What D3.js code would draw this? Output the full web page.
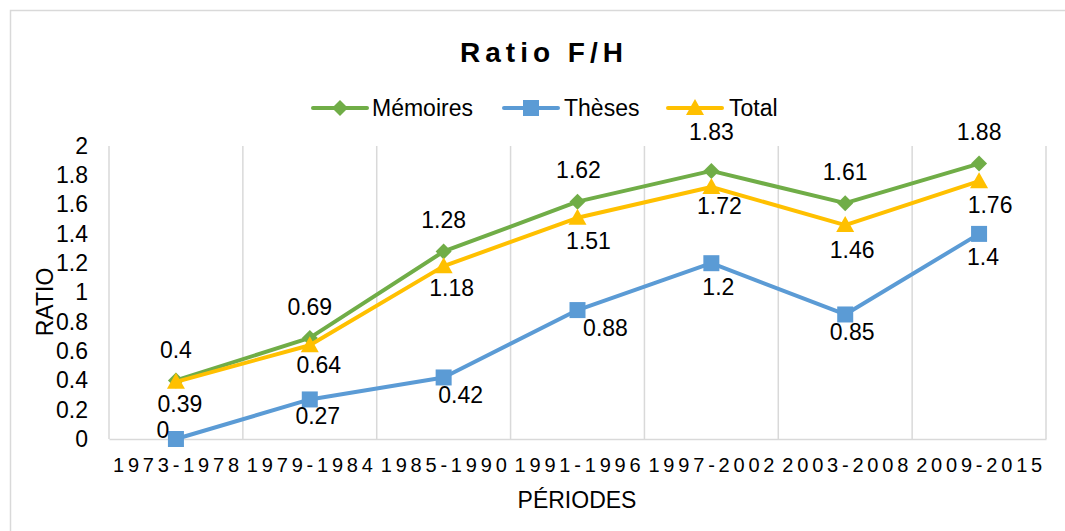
<!DOCTYPE html>
<html>
<head>
<meta charset="utf-8">
<script src="https://cdn.jsdelivr.net/npm/d3@7"></script>
<style>
  body { margin: 0; background: #fff; }
  svg { font-family: "Liberation Sans", Arial, sans-serif; }
</style>
</head>
<body>
<svg id="chart" width="1065" height="531"></svg>
<script>
// données
const periodes = ["1973-1978", "1979-1984", "1985-1990", "1991-1996", "1997-2002", "2003-2008", "2009-2015"];
const memoires = [0.4, 0.69, 1.28, 1.62, 1.83, 1.61, 1.88];
const theses = [0, 0.27, 0.42, 0.88, 1.2, 0.85, 1.4];
const total = [0.39, 0.64, 1.18, 1.51, 1.72, 1.46, 1.76];
const yTicks = [0, 0.2, 0.4, 0.6, 0.8, 1, 1.2, 1.4, 1.6, 1.8, 2];

// décalage des étiquettes (dx, dy) par point
const shiftMemoires = [[0,-30],[0,-31],[0,-32],[1,-32],[0,-39],[0,-31],[0,-32]];
const shiftTheses = [[-13,-9],[8,17],[17,17],[28,18],[7,24],[7,17],[4,23]];
const shiftTotal = [[4,22],[9,20],[8,22],[11,23],[8,19],[7,25],[11,24]];

const series = [
  { name: "Mémoires", values: memoires, color: "#70AD47", marker: "diamond", shift: shiftMemoires },
  { name: "Thèses", values: theses, color: "#5B9BD5", marker: "square", shift: shiftTheses },
  { name: "Total", values: total, color: "#FFC000", marker: "triangle", shift: shiftTotal }
];

const svg = d3.select("#chart");
const area = { left: 109, right: 1046, top: 146, bottom: 439 };
const grid = "#D9D9D9";
const fs = "23px";

// cadre
svg.append("rect")
  .attr("x", 10.5).attr("y", 10.5)
  .attr("width", 1070).attr("height", 540)
  .attr("fill", "none").attr("stroke", grid).attr("stroke-width", 1.5);

const scX = d3.scaleBand().domain(periodes).range([area.left, area.right]).padding(0);
const scY = d3.scaleLinear().domain([0, 2]).range([area.bottom, area.top]);

// grille verticale
svg.append("g").selectAll("line")
  .data(periodes)
  .enter()
  .append("line")
  .attr("x1", d => scX(d) + scX.bandwidth())
  .attr("x2", d => scX(d) + scX.bandwidth())
  .attr("y1", area.top)
  .attr("y2", area.bottom)
  .attr("stroke", grid).attr("stroke-width", 1.5);

// axe gauche (ligne)
svg.append("line")
  .attr("x1", area.left).attr("x2", area.left)
  .attr("y1", area.top).attr("y2", area.bottom)
  .attr("stroke", grid).attr("stroke-width", 1.5);

// axe X
const axX = svg.append("g")
  .attr("transform", `translate(0, ${area.bottom})`)
  .call(d3.axisBottom(scX).tickSize(0).tickPadding(19));
axX.select(".domain").attr("stroke", grid).attr("stroke-width", 1.5);
axX.selectAll("text")
  .attr("fill", "#000")
  .style("font-size", "20px")
  .style("letter-spacing", "3.8px")
  .attr("dx", "2px")
  .attr("font-family", "Liberation Sans, Arial, sans-serif");

// axe Y
const axY = svg.append("g")
  .attr("transform", `translate(${area.left}, 0)`)
  .call(d3.axisLeft(scY).tickValues(yTicks).tickFormat(d3.format("")).tickSize(0).tickPadding(21));
axY.select(".domain").remove();
axY.selectAll("text")
  .attr("fill", "#000")
  .style("font-size", fs)
  .attr("font-family", "Liberation Sans, Arial, sans-serif");

// titres
svg.append("text")
  .attr("x", 544).attr("y", 62)
  .attr("text-anchor", "middle")
  .style("font-size", "28px").style("font-weight", "bold")
  .style("letter-spacing", "5px")
  .text("Ratio F/H");

svg.append("text")
  .attr("x", 577).attr("y", 508)
  .attr("text-anchor", "middle")
  .style("font-size", fs)
  .text("PÉRIODES");

svg.append("text")
  .attr("transform", "translate(53, 302) rotate(-90)")
  .attr("text-anchor", "middle")
  .style("font-size", fs)
  .text("RATIO");

function drawMarker(g, type, color) {
  if (type === "diamond") {
    g.append("path").attr("d", "M0,-8L8,0L0,8L-8,0Z").attr("fill", color);
  } else if (type === "square") {
    g.append("rect").attr("x", -8).attr("y", -8).attr("width", 16).attr("height", 16).attr("fill", color);
  } else {
    g.append("path").attr("d", "M0,-9L9,7L-9,7Z").attr("fill", color);
  }
}

const line = d3.line()
  .x((d, i) => scX(periodes[i]) + scX.bandwidth() / 2)
  .y(d => scY(d));

// ordre de dessin: Mémoires, Thèses, Total
series.forEach(s => {
  svg.append("path")
    .datum(s.values)
    .attr("d", line)
    .attr("fill", "none")
    .attr("stroke", s.color)
    .attr("stroke-width", 4)
    .attr("stroke-linejoin", "round")
    .attr("stroke-linecap", "round");

  s.values.forEach((v, i) => {
    const g = svg.append("g")
      .attr("transform", `translate(${scX(periodes[i]) + scX.bandwidth() / 2}, ${scY(v)})`);
    drawMarker(g, s.marker, s.color);
  });
});

// étiquettes
series.forEach(s => {
  svg.append("g").selectAll("text")
    .data(s.values)
    .enter()
    .append("text")
    .attr("x", (d, i) => scX(periodes[i]) + scX.bandwidth() / 2 + s.shift[i][0])
    .attr("y", (d, i) => scY(d) + s.shift[i][1])
    .attr("dy", "0.35em")
    .attr("text-anchor", "middle")
    .style("font-size", fs)
    .text(d => d);
});

// légende
const legend = [
  { x: 313, tx: 372 },
  { x: 504, tx: 564 },
  { x: 668, tx: 729 }
];
series.forEach((s, i) => {
  const l = legend[i];
  svg.append("line")
    .attr("x1", l.x).attr("x2", l.x + 54)
    .attr("y1", 108).attr("y2", 108)
    .attr("stroke", s.color).attr("stroke-width", 4)
    .attr("stroke-linecap", "round");
  const g = svg.append("g").attr("transform", `translate(${l.x + 27}, 108)`);
  drawMarker(g, s.marker, s.color);
  svg.append("text")
    .attr("x", l.tx).attr("y", 108)
    .attr("dy", "0.35em")
    .style("font-size", fs)
    .text(s.name);
});
</script>
</body>
</html>
